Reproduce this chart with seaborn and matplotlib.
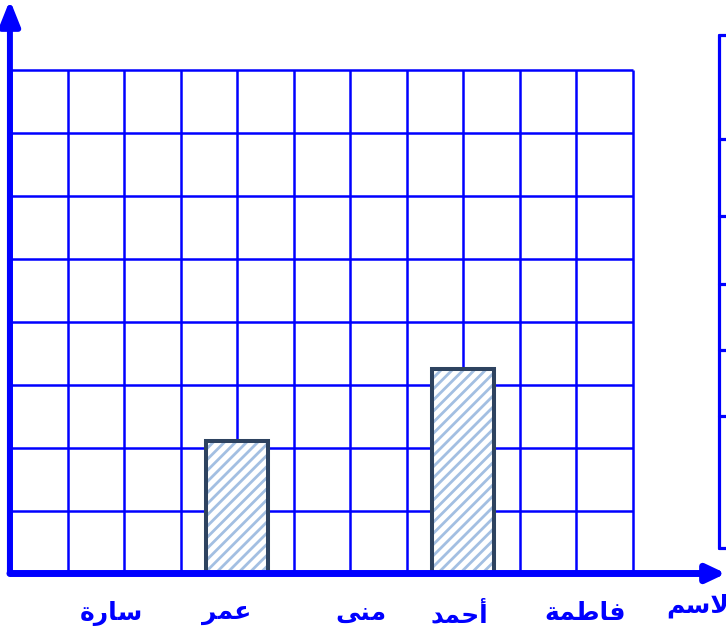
import numpy as np
import pandas as pd
import matplotlib
matplotlib.use("Agg")
import matplotlib.pyplot as plt
import matplotlib.transforms as mtransforms
import seaborn as sns
from matplotlib.lines import Line2D
from matplotlib.colors import to_rgba

# ---- data ----
names = ['سارة', 'عمر', 'منى', 'أحمد', 'فاطمة']
values = [None, 2.1, None, 3.25, None]
axis_title = 'الاسم'
n_rows = 8
n_cols = 11

# ---- minimal Arabic shaping (presentation forms, visual order) ----
FORMS = {
    'ا': ('\uFE8D', '\uFE8E', None, None),
    'أ': ('\uFE83', '\uFE84', None, None),
    'ر': ('\uFEAD', '\uFEAE', None, None),
    'د': ('\uFEA9', '\uFEAA', None, None),
    'ة': ('\uFE93', '\uFE94', None, None),
    'ى': ('\uFEEF', '\uFEF0', None, None),
    'س': ('\uFEB1', '\uFEB2', '\uFEB3', '\uFEB4'),
    'ع': ('\uFEC9', '\uFECA', '\uFECB', '\uFECC'),
    'م': ('\uFEE1', '\uFEE2', '\uFEE3', '\uFEE4'),
    'ن': ('\uFEE5', '\uFEE6', '\uFEE7', '\uFEE8'),
    'ح': ('\uFEA1', '\uFEA2', '\uFEA3', '\uFEA4'),
    'ف': ('\uFED1', '\uFED2', '\uFED3', '\uFED4'),
    'ط': ('\uFEC1', '\uFEC2', '\uFEC3', '\uFEC4'),
    'ل': ('\uFEDD', '\uFEDE', '\uFEDF', '\uFEE0'),
}


def shape(s):
    toks, i = [], 0
    while i < len(s):
        if s[i] == 'ل' and i + 1 < len(s) and s[i + 1] in 'اأ':
            toks.append('LA'); i += 2
        else:
            toks.append(s[i]); i += 1

    def jl(t):
        return t != 'LA' and t in FORMS and FORMS[t][2] is not None

    def jr(t):
        return t == 'LA' or t in FORMS

    out = []
    for k, t in enumerate(toks):
        prev = toks[k - 1] if k > 0 else None
        nxt = toks[k + 1] if k + 1 < len(toks) else None
        jp = prev is not None and jl(prev) and jr(t)
        jn = nxt is not None and jl(t) and jr(nxt)
        if t == 'LA':
            out.append('\uFEFC' if jp else '\uFEFB'); continue
        f = FORMS.get(t)
        if f is None:
            out.append(t); continue
        if jp and jn:
            out.append(f[3])
        elif jp:
            out.append(f[1])
        elif jn:
            out.append(f[2])
        else:
            out.append(f[0])
    return ''.join(reversed(out))


sns.set_style('white')
plt.rcParams['font.family'] = ['DejaVu Sans']
plt.rcParams['hatch.linewidth'] = 2.0

W, H = 726, 638
fig = plt.figure(figsize=(W / 100, H / 100), dpi=100)

# axes: origin at px (11, 573.5), extends to right and top edges
x0, y0 = 11, 573.5
col_w, row_h = 56.5, 63.0
ax = fig.add_axes([x0 / W, (H - y0) / H, (W - x0) / W, y0 / H])

labels = [shape(n) for n in names]
df = pd.DataFrame({'name': labels, 'value': values}).dropna()


def col_to_cat(c):
    # category i sits at grid column 2 + 2i
    return (c - 2) / 2.0


blue = '#0000FF'
ax.hlines(np.arange(0, n_rows + 1), col_to_cat(0), col_to_cat(n_cols),
          color=blue, lw=1.8, zorder=0.5)
ax.vlines([col_to_cat(c) for c in range(0, n_cols + 1)], 0, n_rows,
          color=blue, lw=1.8, zorder=0.5)

sns.barplot(data=df, x='name', y='value', order=labels, ax=ax,
            width=0.55, color='white', zorder=2)

edge = '#2E4360'
hatch_c = to_rgba('#a3bfe2')
for p in ax.patches:
    p.set_facecolor('white')
    p.set_edgecolor(edge)
    p.set_linewidth(2.9)
    p.set_hatch('///')
    if hasattr(p, 'set_hatchcolor'):
        p.set_hatchcolor(hatch_c)
    else:
        p._hatch_color = hatch_c
    p.set_zorder(2)

ax.set_xlim(-1, col_to_cat((W - x0) / col_w))
ax.set_ylim(0, y0 / row_h)
for s in ax.spines.values():
    s.set_visible(False)
ax.set_yticks([])
ax.set_xlabel('')
ax.set_ylabel('')
ax.tick_params(axis='x', length=0, pad=20)
label_shift_px = [-13, -10, 11, -4, 9]
for t, dx in zip(ax.get_xticklabels(), label_shift_px):
    t.set_fontsize(18)
    t.set_fontweight('bold')
    t.set_color(blue)
    t.set_transform(t.get_transform() +
                    mtransforms.ScaledTranslation(dx / 100, 0, fig.dpi_scale_trans))

# axis arrows
ax.annotate('', xy=(-0.0015, 1.0), xytext=(-0.0015, 0), xycoords='axes fraction',
            arrowprops=dict(arrowstyle='-|>,head_length=0.75,head_width=0.3',
                            color=blue, lw=4.3, shrinkA=0, shrinkB=0,
                            mutation_scale=20),
            annotation_clip=False, zorder=5)
ax.annotate('', xy=(1.0, 0), xytext=(-0.0015, 0), xycoords='axes fraction',
            arrowprops=dict(arrowstyle='-|>,head_length=0.55,head_width=0.26',
                            color=blue, lw=5.0, shrinkA=0, shrinkB=0,
                            mutation_scale=20),
            annotation_clip=False, zorder=5)

fig.text(666 / W, 1 - 606 / H, shape(axis_title), ha='left', va='center',
         fontsize=18, fontweight='bold', color=blue)


def fx(px):
    return px / W


def fy(py):
    return 1 - py / H


# partial frame at the right edge
fig.add_artist(Line2D([fx(718.5), fx(718.5)], [fy(35), fy(548)],
                      transform=fig.transFigure, color=blue, lw=2.3))
for yy in [35, 139, 216, 284, 350, 416, 548]:
    fig.add_artist(Line2D([fx(718.5), fx(727)], [fy(yy), fy(yy)],
                          transform=fig.transFigure, color=blue, lw=2.3))

fig.savefig('out.png', dpi=100)
